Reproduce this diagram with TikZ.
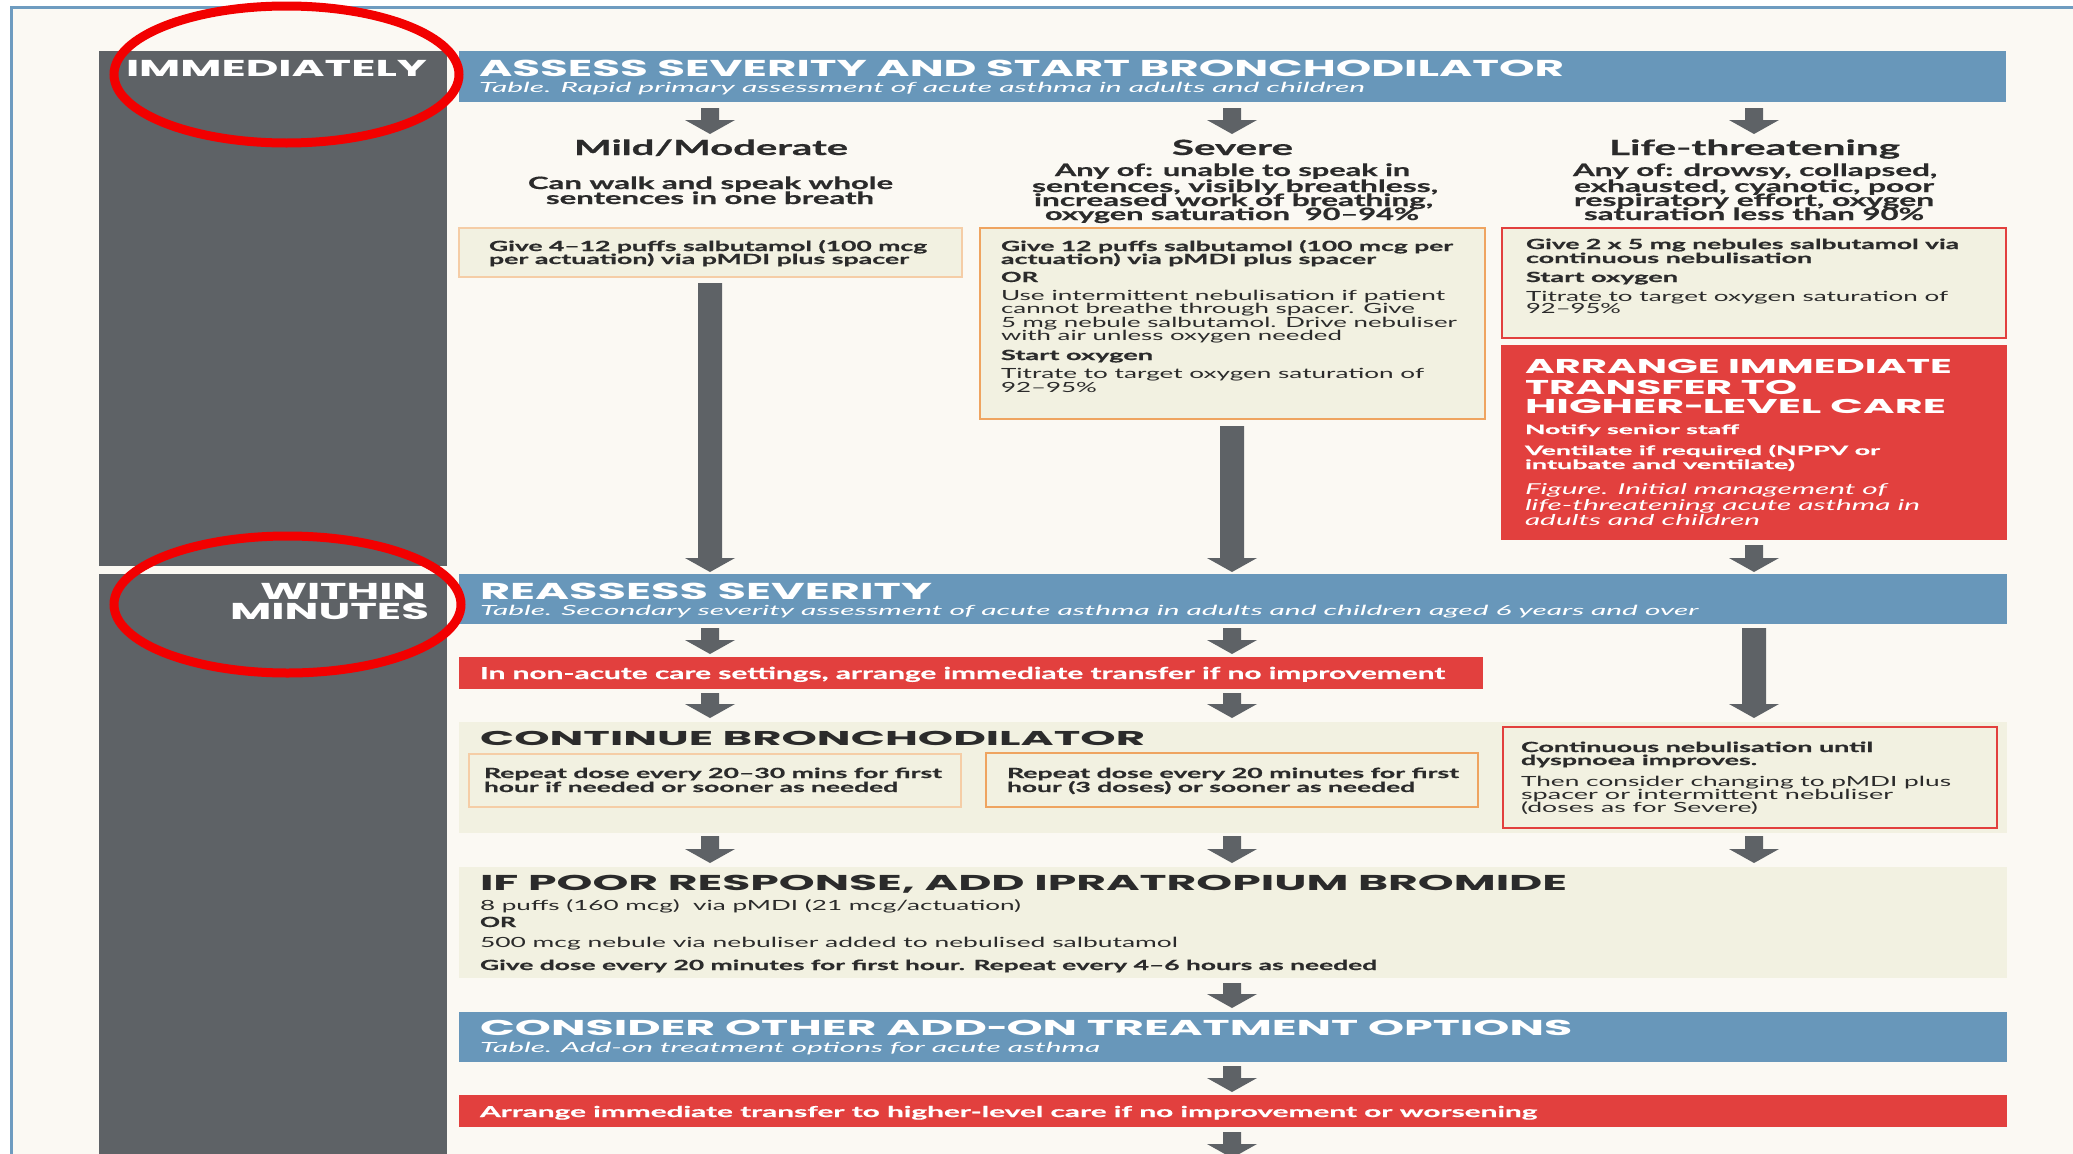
\documentclass[tikz,border=0pt]{standalone}
\usepackage{fontspec}
\usepackage{graphicx}
\setmainfont{Lato}[BoldFeatures={FakeBold=0.6}]
\newfontfamily\hf{Poppins}
\usetikzlibrary{arrows.meta}
\definecolor{bgc}{HTML}{FBF9F3}
\definecolor{framec}{HTML}{6E9CC0}
\definecolor{grayc}{HTML}{5E6266}
\definecolor{bluec}{HTML}{6897BA}
\definecolor{redc}{HTML}{E2403E}
\definecolor{creamc}{HTML}{F2F1E1}
\definecolor{lorange}{HTML}{F5CDA6}
\definecolor{orangec}{HTML}{EFA460}
\definecolor{txt}{HTML}{2B2B2B}
\definecolor{ringc}{HTML}{F20000}
\newcommand\fs[1]{\fontsize{#1}{#1}\selectfont}
\newcommand\HB[1]{\hf\bfseries\fs{#1}}
\newcommand\BB[1]{\bfseries\fs{#1}}
\newcommand\RR[1]{\fs{#1}}
\newcommand\II[1]{\itshape\fs{#1}}
\newcommand\sdash{\resizebox{0.62\width}{\height}{–}}
% text line: name, x-left, x-right, baseline, font, text
\newcommand\tx[6]{\node[anchor=base west, inner sep=0pt, outer sep=0pt] (#1) at (#2,#4) {\resizebox{\dimexpr #3pt-#2pt\relax}{\height}{#5#6}};}
% rectangle node: name, style, x1, y1, x2, y2
\newcommand\rect[6]{\node[#2, anchor=north west, inner sep=0pt, outer sep=0pt, minimum width=#5pt-#3pt, minimum height=#6pt-#4pt] (#1) at (#3,#4) {};}
% block arrow: start, end, half shaft width
\newcommand\barrow[3]{\fill[arrowc] ([xshift=-#3pt]#1) -- ([xshift=-#3pt,yshift=14pt]#2) -- ([xshift=-25pt,yshift=14pt]#2) -- (#2) -- ([xshift=25pt,yshift=14pt]#2) -- ([xshift=#3pt,yshift=14pt]#2) -- ([xshift=#3pt]#1) -- cycle;}
\colorlet{arrowc}{grayc}
\tikzset{
  sidebar/.style={fill=grayc},
  bluebar/.style={fill=bluec},
  redbar/.style={fill=redc},
  cream/.style={fill=creamc},
  lobox/.style={fill=creamc, draw=lorange, line width=2pt},
  obox/.style={fill=creamc, draw=orangec, line width=2.5pt},
  rbox/.style={fill=creamc, draw=redc, line width=2.5pt},
  ring/.style={draw=ringc, line width=9pt},
}
\begin{document}
\begin{tikzpicture}[x=1pt,y=-1pt]
\useasboundingbox (0,0) rectangle (2073,1154);
\fill[white] (0,0) rectangle (2073,1154);
\fill[bgc] (11,7) rectangle (2073,1154);
\draw[framec, line width=3pt] (11,1160) -- (11,7) -- (2080,7);

% sidebar
\rect{side1}{sidebar}{99}{51}{447}{566}
\rect{side2}{sidebar}{99}{574}{447}{1160}
\tx{immed}{126}{427}{76}{\color{white}\HB{23}}{IMMEDIATELY}
\tx{within}{260}{426}{599}{\color{white}\HB{23}}{WITHIN}
\tx{minutes}{230}{429}{619}{\color{white}\HB{23}}{MINUTES}

% bar 1
\rect{bar1}{bluebar}{459}{51}{2006}{102}
\tx{t1}{479}{1564}{76}{\color{white}\HB{23}}{ASSESS SEVERITY AND START BRONCHODILATOR}
\tx{t1s}{479}{1365}{92}{\color{white}\II{14}}{Table. Rapid primary assessment of acute asthma in adults and children}

% mild / moderate
\tx{mildh}{574}{848}{155}{\color{txt}\BB{21}}{Mild/Moderate}
\tx{mild1}{528}{893}{189}{\color{txt}\BB{17}}{Can walk and speak whole}
\tx{mild2}{546}{874}{204}{\color{txt}\BB{17}}{sentences in one breath}
\rect{mildbox}{lobox}{459}{228}{962}{277}
\tx{mildb1}{489}{927}{251}{\color{txt}\BB{14}}{Give 4–12 puffs salbutamol (100 mcg}
\tx{mildb2}{489}{909}{264}{\color{txt}\BB{14}}{per actuation) via pMDI plus spacer}

% severe
\tx{sevh}{1172}{1293}{155}{\color{txt}\BB{21}}{Severe}
\tx{sev1}{1055}{1410}{176}{\color{txt}\BB{17}}{Any of: unable to speak in}
\tx{sev2}{1032}{1438}{192}{\color{txt}\BB{17}}{sentences, visibly breathless,}
\tx{sev3}{1034}{1433}{206}{\color{txt}\BB{17}}{increased work of breathing,}
\tx{sev4}{1045}{1419}{220}{\color{txt}\BB{17}}{oxygen saturation~ 90–94\%}
\rect{sevbox}{obox}{980}{228}{1485}{419}
\tx{sevb1}{1001}{1453}{251}{\color{txt}\BB{14}}{Give 12 puffs salbutamol (100 mcg per}
\tx{sevb2}{1001}{1376}{264}{\color{txt}\BB{14}}{actuation) via pMDI plus spacer}
\tx{sevb3}{1001}{1038}{282}{\color{txt}\BB{14}}{OR}
\tx{sevb4}{1001}{1445}{300}{\color{txt}\RR{14}}{Use intermittent nebulisation if patient}
\tx{sevb5}{1001}{1415}{313}{\color{txt}\RR{14}}{cannot breathe through spacer. Give}
\tx{sevb6}{1001}{1457}{327}{\color{txt}\RR{14}}{5 mg nebule salbutamol. Drive nebuliser}
\tx{sevb7}{1001}{1342}{340}{\color{txt}\RR{14}}{with air unless oxygen needed}
\tx{sevb8}{1001}{1153}{360}{\color{txt}\BB{14}}{Start oxygen}
\tx{sevb9}{1001}{1424}{378}{\color{txt}\RR{14}}{Titrate to target oxygen saturation of}
\tx{sevb10}{1001}{1097}{392}{\color{txt}\RR{14}}{92–95\%}

% life-threatening
\tx{lifeh}{1609}{1900}{155}{\color{txt}\BB{21}}{Life-threatening}
\tx{life1}{1573}{1937}{176}{\color{txt}\BB{17}}{Any of: drowsy, collapsed,}
\tx{life2}{1574}{1934}{192}{\color{txt}\BB{17}}{exhausted, cyanotic, poor}
\tx{life3}{1574}{1934}{206}{\color{txt}\BB{17}}{respiratory effort, oxygen}
\tx{life4}{1584}{1924}{220}{\color{txt}\BB{17}}{saturation less than 90\%}
\rect{lifebox}{rbox}{1502}{228}{2006}{338}
\tx{lifeb1}{1526}{1959}{249}{\color{txt}\BB{14}}{Give 2 x 5 mg nebules salbutamol via}
\tx{lifeb2}{1526}{1812}{263}{\color{txt}\BB{14}}{continuous nebulisation}
\tx{lifeb3}{1526}{1678}{282}{\color{txt}\BB{14}}{Start oxygen}
\tx{lifeb4}{1526}{1948}{301}{\color{txt}\RR{14}}{Titrate to target oxygen saturation of}
\tx{lifeb5}{1526}{1621}{313}{\color{txt}\RR{14}}{92–95\%}
\rect{arrange}{redbar}{1501}{345}{2007}{540}
\tx{arr1}{1525}{1952}{373}{\color{white}\HB{20}}{ARRANGE IMMEDIATE}
\tx{arr2}{1525}{1797}{394}{\color{white}\HB{20}}{TRANSFER TO}
\tx{arr3}{1525}{1946}{413}{\color{white}\HB{20}}{HIGHER\sdash LEVEL CARE}
\tx{arr4}{1525}{1739}{434}{\color{white}\BB{13}}{Notify senior staff}
\tx{arr5}{1525}{1880}{455}{\color{white}\BB{13}}{Ventilate if required (NPPV or}
\tx{arr6}{1525}{1795}{469}{\color{white}\BB{13}}{intubate and ventilate)}
\tx{arr7}{1525}{1887}{494}{\color{white}\II{15}}{Figure. Initial management of}
\tx{arr8}{1525}{1920}{510}{\color{white}\II{15}}{life-threatening acute asthma in}
\tx{arr9}{1525}{1760}{525}{\color{white}\II{15}}{adults and children}

% bar 2
\rect{bar2}{bluebar}{459}{574}{2007}{624}
\tx{t2}{480}{932}{599}{\color{white}\HB{23}}{REASSESS SEVERITY}
\tx{t2s}{480}{1698}{615}{\color{white}\II{14}}{Table. Secondary severity assessment of acute asthma in adults and children aged 6 years and over}

\rect{banner}{redbar}{459}{657}{1483}{689}
\tx{bannert}{480}{1445}{679}{\color{white}\BB{16.5}}{In non-acute care settings, arrange immediate transfer if no improvement}

% continue bronchodilator
\rect{contp}{cream}{459}{722}{2007}{833}
\tx{contt}{480}{1145}{745}{\color{txt}\HB{20}}{CONTINUE BRONCHODILATOR}
\rect{boxa}{lobox}{469}{754}{961}{807}
\tx{boxa1}{484}{942}{778}{\color{txt}\BB{14}}{Repeat dose every 20–30 mins for first}
\tx{boxa2}{484}{898}{792}{\color{txt}\BB{14}}{hour if needed or sooner as needed}
\rect{boxb}{obox}{986}{753}{1478}{807}
\tx{boxb1}{1007}{1459}{778}{\color{txt}\BB{14}}{Repeat dose every 20 minutes for first}
\tx{boxb2}{1007}{1415}{792}{\color{txt}\BB{14}}{hour (3 doses) or sooner as needed}
\rect{boxc}{rbox}{1503}{727}{1997}{828}
\tx{boxc1}{1521}{1873}{752}{\color{txt}\BB{14}}{Continuous nebulisation until}
\tx{boxc2}{1521}{1757}{765}{\color{txt}\BB{14}}{dyspnoea improves.}
\tx{boxc3}{1521}{1951}{786}{\color{txt}\RR{14}}{Then consider changing to pMDI plus}
\tx{boxc4}{1521}{1893}{799}{\color{txt}\RR{14}}{spacer or intermittent nebuliser}
\tx{boxc5}{1521}{1758}{812}{\color{txt}\RR{14}}{(doses as for Severe)}

% ipratropium
\rect{iprap}{cream}{459}{867}{2007}{978}
\tx{iprat}{480}{1567}{890}{\color{txt}\HB{21.5}}{IF POOR RESPONSE, ADD IPRATROPIUM BROMIDE}
\tx{ipra1}{480}{1021}{910}{\color{txt}\RR{14}}{8 puffs (160 mcg)~ via pMDI (21 mcg/actuation)}
\tx{ipra2}{480}{516}{927}{\color{txt}\BB{14}}{OR}
\tx{ipra3}{480}{1178}{947}{\color{txt}\RR{14}}{500 mcg nebule via nebuliser added to nebulised salbutamol}
\tx{ipra4}{480}{1377}{970}{\color{txt}\BB{14}}{Give dose every 20 minutes for first hour. Repeat every 4–6 hours as needed}

% bar 3
\rect{bar3}{bluebar}{459}{1012}{2007}{1062}
\tx{t3}{480}{1572}{1035}{\color{white}\HB{21.5}}{CONSIDER OTHER ADD\sdash ON TREATMENT OPTIONS}
\tx{t3s}{480}{1100}{1052}{\color{white}\II{14}}{Table. Add-on treatment options for acute asthma}

\rect{final}{redbar}{459}{1095}{2007}{1127}
\tx{finalt}{480}{1537}{1117}{\color{white}\BB{15}}{Arrange immediate transfer to higher-level care if no improvement or worsening}

% arrow end points
\coordinate (a1s) at (710,108);  \coordinate (a1e) at (710,134);
\coordinate (a2s) at (1232,108); \coordinate (a2e) at (1232,134);
\coordinate (a3s) at (1754,108); \coordinate (a3e) at (1754,134);
\coordinate (l1s) at (710,283);  \coordinate (l1e) at (710,572);
\coordinate (l2s) at (1232,426); \coordinate (l2e) at (1232,572);
\coordinate (a4s) at (1754,545); \coordinate (a4e) at (1754,572);
\coordinate (a5s) at (710,628);  \coordinate (a5e) at (710,654);
\coordinate (a6s) at (1232,628); \coordinate (a6e) at (1232,654);
\coordinate (l3s) at (1754,628); \coordinate (l3e) at (1754,718);
\coordinate (a7s) at (710,693);  \coordinate (a7e) at (710,718);
\coordinate (a8s) at (1232,693); \coordinate (a8e) at (1232,718);
\coordinate (a9s) at (710,836);  \coordinate (a9e) at (710,863);
\coordinate (a10s) at (1232,836); \coordinate (a10e) at (1232,863);
\coordinate (a11s) at (1754,836); \coordinate (a11e) at (1754,863);
\coordinate (a12s) at (1232,983); \coordinate (a12e) at (1232,1008);
\coordinate (a13s) at (1232,1066); \coordinate (a13e) at (1232,1092);
\coordinate (a14s) at (1232,1132); \coordinate (a14e) at (1232,1158);

\barrow{a1s}{a1e}{9}
\barrow{a2s}{a2e}{9}
\barrow{a3s}{a3e}{9}
\barrow{l1s}{l1e}{12}
\barrow{l2s}{l2e}{12}
\barrow{a4s}{a4e}{9}
\barrow{a5s}{a5e}{9}
\barrow{a6s}{a6e}{9}
\barrow{l3s}{l3e}{12}
\barrow{a7s}{a7e}{9}
\barrow{a8s}{a8e}{9}
\barrow{a9s}{a9e}{9}
\barrow{a10s}{a10e}{9}
\barrow{a11s}{a11e}{9}
\barrow{a12s}{a12e}{9}
\barrow{a13s}{a13e}{9}
\barrow{a14s}{a14e}{9}

% red annotation rings
\draw[ring] (286.5,74.5) ellipse [x radius=172.5pt, y radius=68.5pt];
\draw[ring] (287.5,604.5) ellipse [x radius=173.5pt, y radius=68.5pt];
\end{tikzpicture}
\end{document}
